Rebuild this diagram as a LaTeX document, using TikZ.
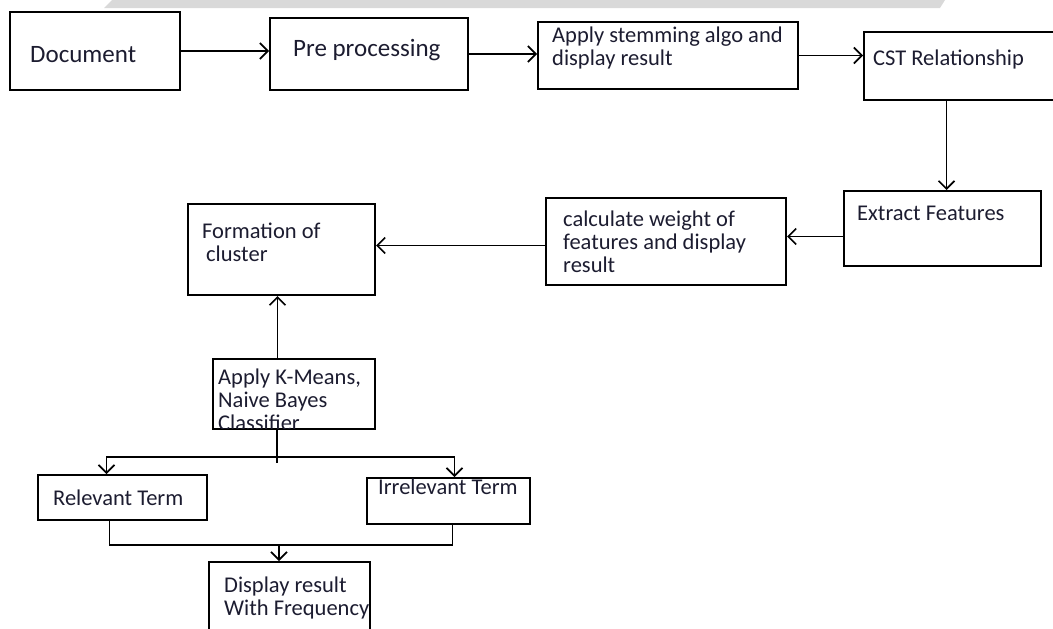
\documentclass[tikz,border=0pt]{standalone}
\usepackage{fontspec}
\setmainfont{Carlito}
\usepackage{xcolor}
\usepackage{tikz}
\usetikzlibrary{arrows.meta}
\definecolor{ink}{HTML}{1C1C30}
\definecolor{band}{HTML}{D9D9D9}

\begin{document}
\begin{tikzpicture}[x=1pt,y=-1pt,
  box/.style={draw=black,line width=2pt,minimum width=#1,inner sep=0pt,anchor=north west},
  txt/.style={text=ink,inner sep=0pt,anchor=base west,align=left,font=\fontsize{22.5}{23}\selectfont},
  bigtxt/.style={txt,font=\fontsize{25}{30}\selectfont},
  wire/.style={draw=black,line width=1.8pt},
  arr/.style={wire,-{Straight Barb[length=8pt,width=16pt,line width=1.6pt]}}]
\useasboundingbox (0,0) rectangle (1053,629);
\fill[band] (112,0) -- (945,0) -- (940,8) -- (104,8) -- cycle;
% top row
\node[box=170,minimum height=78] (doc) at (9,11) {};
\node[box=198,minimum height=72] (pre) at (269,17) {};
\node[box=260,minimum height=67] (stem) at (537,21) {};
\node[box=193,minimum height=68] (cst) at (863,31) {};
\node[bigtxt] (doctxt) at (30,62) {Document};
\node[bigtxt] (pretxt) at (293,56) {Pre processing};
\node[txt] (stemtxt) at (552,65) {Apply stemming algo and\\display result};
\node[txt] (csttxt) at (873,65) {CST Relationship};
% middle row
\node[box=197,minimum height=75] (extract) at (843,190) {};
\node[box=240,minimum height=87] (calc) at (545,197) {};
\node[box=187,minimum height=91] (form) at (187,203) {};
\node[txt] (extracttxt) at (857,220) {Extract Features};
\node[txt] (calctxt) at (563,272) {calculate weight of\\features and display\\result};
\node[txt] (formtxt) at (202,261) {Formation of\\\hspace{4pt}cluster};
% lower part
\node[box=162,minimum height=70] (kmeans) at (212,358) {};
\begin{scope}
\clip (212,358) rectangle (374,428);
\node[txt] (kmeanstxt) at (218,430) {Apply K-Means,\\Naive Bayes\\Classifier};
\end{scope}
\node[box=169,minimum height=45] (rel) at (37,474) {};
\node[box=163,minimum height=46] (irr) at (366,477) {};
\node[box=161,minimum height=80] (disp) at (208,561) {};
\node[txt] (reltxt) at (53,505) {Relevant Term};
\node[txt] (irrtxt) at (378,494) {Irrelevant Term};
\node[txt] (disptxt) at (224,615) {Display result\\With Frequency};
\coordinate (split) at (277,457);
\coordinate (merge) at (279,545);
% connectors
\draw[arr] (doc.east) -- (doc.east -| pre.west);
\draw[arr] (pre.east) -- (pre.east -| stem.west);
\draw[arr] (stem.east) -- (stem.east -| cst.west);
\draw[arr] ([xshift=4pt]extract.north |- cst.south) -- ([xshift=4pt]extract.north);
\draw[arr] ([yshift=-8pt]extract.west) -- ([yshift=-8pt]extract.west -| calc.east);
\draw[arr] ([yshift=-4pt]calc.west) -- ([yshift=-4pt]calc.west -| form.east);
\draw[arr] ([xshift=-4pt]form.south |- kmeans.north) -- ([xshift=-4pt]form.south);
\draw[wire] (split |- kmeans.south) -- ([yshift=-6pt]split);
\draw[arr] (split) -| ([xshift=-16pt]rel.north);
\draw[arr] (split) -| ([xshift=6pt]irr.north);
\draw[wire] ([xshift=-13pt]rel.south) |- (merge) -| ([xshift=4pt]irr.south);
\draw[arr] (merge) -- (merge |- disp.north);
\end{tikzpicture}
\end{document}
